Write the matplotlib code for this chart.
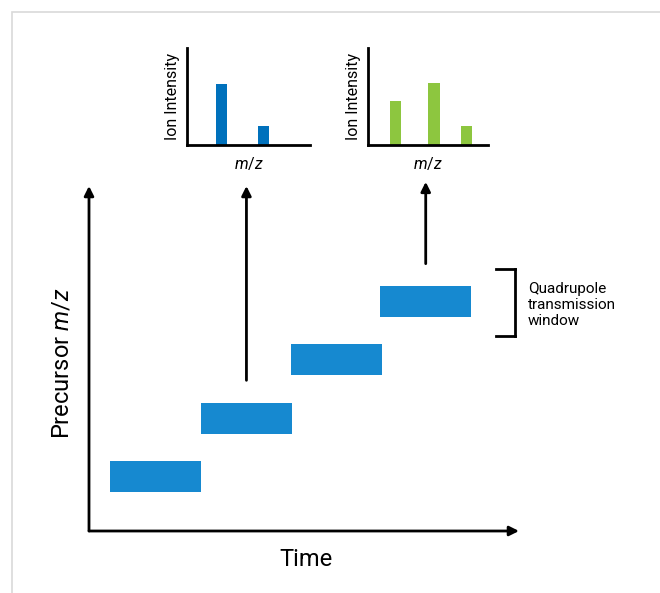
import matplotlib.pyplot as plt
from matplotlib.patches import Rectangle
from matplotlib.lines import Line2D

plt.rcParams['font.family'] = ['Roboto', 'DejaVu Sans']
plt.rcParams['mathtext.fontset'] = 'custom'
plt.rcParams['mathtext.rm'] = 'Roboto'
plt.rcParams['mathtext.it'] = 'Roboto:italic'

# isolation windows stepping through precursor m/z over time
win_start = [0.23, 1.23, 2.22, 3.20]
win_width = [1.0, 1.0, 1.0, 1.0]
win_lo = [400, 425, 450, 475]
win_height = 13.3

# fragment spectra for two of the windows
spec1_mz = [0.28, 0.62]
spec1_int = [0.63, 0.20]
spec2_mz = [0.23, 0.55, 0.82]
spec2_int = [0.45, 0.64, 0.20]

W, H = 660, 593
fig = plt.figure(figsize=(W / 100, H / 100), dpi=100)


def fx(px):
    return px / W


def fy(py):
    return 1 - py / H


# light frame round the panel
fig.add_artist(Rectangle((fx(12), -0.1), 1.2, fy(12) + 0.1, transform=fig.transFigure,
                         fill=False, ec='#d9d9d9', lw=1.2))

# main diagram
ax = fig.add_axes([fx(89), fy(531), fx(519) - fx(89), fy(186) - fy(531)])
ax.set_xlim(0, 4.725)
ax.set_ylim(383.3, 531.2)
ax.axis('off')

ax.barh(win_lo, win_width, height=win_height, left=win_start, align='edge',
        color='#1689d0', edgecolor='none')

arrow = dict(arrowstyle='-|>', lw=2, color='black', mutation_scale=14,
             shrinkA=0, shrinkB=0)
ax.annotate('', xy=(0, 1), xytext=(0, 0), xycoords='axes fraction',
            textcoords='axes fraction', arrowprops=arrow, annotation_clip=False)
ax.annotate('', xy=(1, 0), xytext=(0, 0), xycoords='axes fraction',
            textcoords='axes fraction', arrowprops=arrow, annotation_clip=False)

# arrows from windows up to their spectra
for i, tip in [(1, 1.0), (3, 1.012)]:
    xc = win_start[i] + win_width[i] / 2
    ax.annotate('', xy=(xc, tip), xytext=(xc, win_lo[i] + win_height + 9.6),
                xycoords=('data', 'axes fraction'), textcoords='data',
                arrowprops=arrow, annotation_clip=False)

fig.text(fx(62), fy(363), 'Precursor $m/z$', rotation=90, ha='center', va='center',
         fontsize=17)
fig.text(fx(306), fy(560), 'Time', ha='center', va='center', fontsize=17)

# bracket for the quadrupole window
bx, bt, bb, bl = 515, 269, 336, 496
for xs, ys in [([bl, bx], [bt, bt]), ([bx, bx], [bt, bb]), ([bl, bx], [bb, bb])]:
    fig.add_artist(Line2D([fx(v) for v in xs], [fy(v) for v in ys],
                          transform=fig.transFigure, color='black', lw=2))
fig.text(fx(528), fy(305), 'Quadrupole\ntransmission\nwindow', ha='left', va='center',
         fontsize=11, linespacing=1.2)


# inset spectra
def spectrum(left, right, mz, inten, color):
    a = fig.add_axes([fx(left), fy(145), fx(right) - fx(left), fy(48) - fy(145)])
    a.bar(mz, inten, width=0.092, color=color)
    a.set_xlim(0, 1)
    a.set_ylim(0, 1)
    a.set_xticks([])
    a.set_yticks([])
    for s in ['top', 'right']:
        a.spines[s].set_visible(False)
    for s in ['left', 'bottom']:
        a.spines[s].set_linewidth(2)
    a.set_ylabel('Ion Intensity', fontsize=11.5, labelpad=5)
    a.set_xlabel('$m/z$', fontsize=11.5, labelpad=7)
    return a


spectrum(187, 310, spec1_mz, spec1_int, '#0071bc')
spectrum(368, 488, spec2_mz, spec2_int, '#8dc63f')

fig.savefig('out.png', dpi=100)
